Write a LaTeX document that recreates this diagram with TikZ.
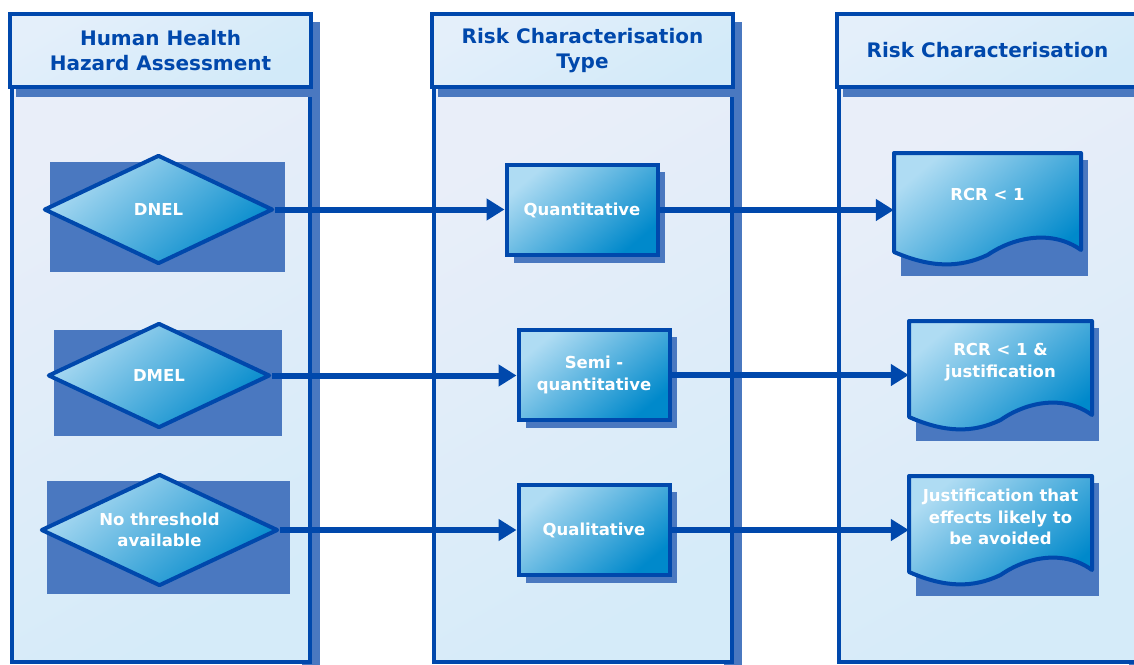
\documentclass[tikz,border=0pt]{standalone}
\usepackage{fontspec}
\setmainfont{DejaVu Sans}
\usepackage{tikz}
\usetikzlibrary{shapes.geometric,arrows.meta}

\definecolor{rcborder}{RGB}{0,72,172}
\definecolor{rcshadow}{RGB}{74,120,192}
\definecolor{rclanea}{RGB}{233,238,249}
\definecolor{rclaneb}{RGB}{213,235,249}
\definecolor{rcheada}{RGB}{228,239,250}
\definecolor{rcheadb}{RGB}{210,234,249}
\definecolor{rcfilla}{RGB}{175,220,243}
\definecolor{rcfillm}{RGB}{40,160,215}
\definecolor{rcfillb}{RGB}{0,137,203}

\newcommand{\rcnodefont}{\fontsize{16.5}{21.5}\selectfont\bfseries}

\tikzset{
  lanehead/.style={draw=rcborder, line width=4.5pt, top color=rcheada, bottom color=rcheadb, shading angle=30,
    minimum width=301pt, minimum height=73pt, text=rcborder, font=\fontsize{20}{25}\selectfont\bfseries, align=center},
  lanebody/.style={draw=rcborder, line width=4.5pt, top color=rclanea, bottom color=rclaneb, shading angle=30},
  decision/.style={diamond, aspect=2.1, draw=rcborder, line width=4pt, line join=round, top color=rcfilla,
    middle color=rcfillm, bottom color=rcfillb, shading angle=40, inner sep=0pt, text=white, font=\rcnodefont, align=center},
  process/.style={rectangle, draw=rcborder, line width=4pt, top color=rcfilla, middle color=rcfillm, bottom color=rcfillb,
    shading angle=40, minimum width=151pt, minimum height=90pt, inner sep=0pt, text=white, font=\rcnodefont, align=center},
  document/.style={draw=rcborder, line width=4pt, line join=round, top color=rcfilla, middle color=rcfillm,
    bottom color=rcfillb, shading angle=40},
  doctext/.style={inner sep=0pt, text=white, font=\rcnodefont, align=center},
  flow/.style={draw=rcborder, line width=6pt, -{Triangle[length=18pt,width=21pt]}}
}

\newcommand{\rclane}[3]{%
  \begin{scope}[shift={(#1,0)}]
    \fill[rcshadow] (292,22) rectangle (310,670);
    \path[lanebody] (2,87) rectangle (300,662);
    \fill[rcshadow] (6,87) rectangle (308,97);
    \node[lanehead] (#2) at (150.5,50.5) {#3};
  \end{scope}}
\newcommand{\rcdecision}[5]{%
  \begin{scope}[shift={(#1)}]
    \fill[rcshadow] ({-#4/2+6},{-#5/2+7}) rectangle ({#4/2+12},{#5/2+8});
    \node[decision, minimum width=#4pt, minimum height=#5pt] (#2) at (0,0) {#3};
  \end{scope}}
\newcommand{\rcprocess}[3]{%
  \begin{scope}[shift={(#1)}]
    \fill[rcshadow] (-68,-38) rectangle (83,53);
    \node[process] (#2) at (0,0) {#3};
  \end{scope}}
\newcommand{\rcdocument}[5]{%
  \begin{scope}[shift={(#1)}]
    \fill[rcshadow] (7,7) rectangle ({#4+7},{#5+24});
    \path[document] (0,0) -- ({#4},0) -- ({#4},{#5-2})
      .. controls ({0.85*#4},{#5-22}) and ({0.65*#4},{#5-16}) .. ({0.5*#4},{#5+3})
      .. controls ({0.35*#4},{#5+16}) and ({0.2*#4},{#5+16}) .. (0,{#5}) -- cycle;
    \node[doctext, minimum width=#4pt] (#2) at ({#4/2},41) {#3};
  \end{scope}}
\newcommand{\rcflow}[2]{\draw[flow] (#1.east) -- (#1.east -| #2.west);}

\begin{document}
\begin{tikzpicture}[x=1pt, y=-1pt]
\useasboundingbox (0,0) rectangle (1134,664);

\rclane{10}{hha}{Human Health\\Hazard Assessment}
\rclane{432}{rct}{Risk Characterisation\\Type}
\rclane{837}{rc}{Risk Characterisation}

\rcdecision{158.5,209.5}{dnel}{DNEL}{229}{109}
\rcdecision{159,375.5}{dmel}{DMEL}{222}{105}
\rcdecision{159.5,530}{nothr}{No threshold\\available}{237}{112}

\rcprocess{582,210}{quant}{Quantitative}
\rcprocess{594,375}{semi}{Semi -\\quantitative}
\rcprocess{594,530}{qual}{Qualitative}

\rcdocument{894,153}{rcrone}{RCR < 1}{187}{99}
\rcdocument{909,321}{rcrjust}{RCR < 1 \&\\justification}{183}{96}
\rcdocument{909,476}{justif}{Justification that\\effects likely to\\be avoided}{183}{96}

\rcflow{dnel}{quant}
\rcflow{dmel}{semi}
\rcflow{nothr}{qual}
\rcflow{quant}{rcrone}
\rcflow{semi}{rcrjust}
\rcflow{qual}{justif}
\end{tikzpicture}
\end{document}
